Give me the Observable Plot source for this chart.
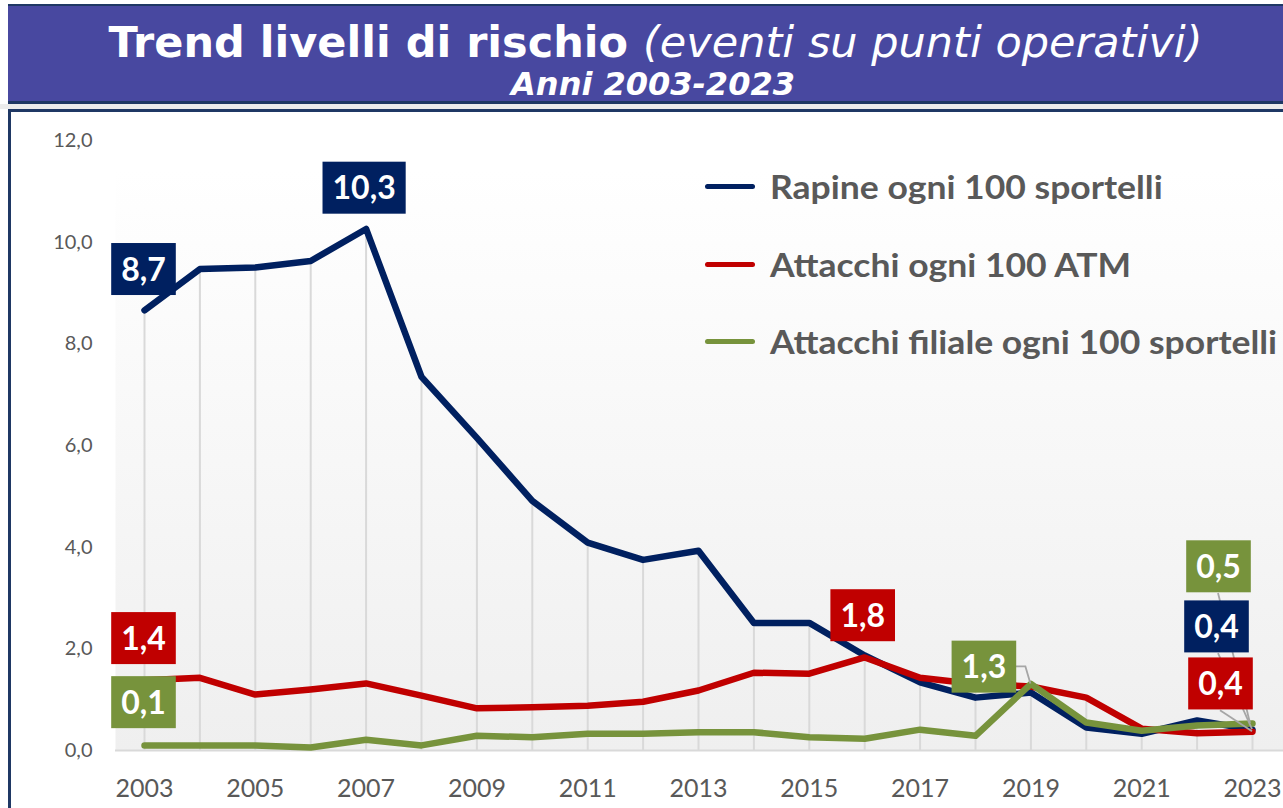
<!DOCTYPE html>
<html lang="it">
<head>
<meta charset="utf-8">
<script src="https://cdn.jsdelivr.net/npm/d3@7"></script>
<script src="https://cdn.jsdelivr.net/npm/@observablehq/plot@0.6"></script>
<style>
  html, body { margin: 0; padding: 0; }
  body { width: 1283px; height: 808px; overflow: hidden; position: relative; background: #ffffff; font-family: Lato, "Open Sans", sans-serif; }
  #banner { position: absolute; left: 8px; top: 4px; width: 1275px; height: 95px; background: #4848A0;
            border-top: 2px solid #1F3864; border-bottom: 3px solid #1F3864; color: #fff; font-family: "DejaVu Sans", sans-serif; }
  #gap { position: absolute; left: 0; top: 104px; width: 1283px; height: 5px; background: #ececec; }
  #t1 { position: absolute; left: 0; width: 1295px; top: 15px; text-align: center; font-size: 43px; line-height: 43px; font-weight: bold; white-space: nowrap; }
  #t1 i { font-weight: normal; }
  #t2 { position: absolute; left: 0; width: 1290px; top: 62px; text-align: center; font-size: 32px; line-height: 32px; font-weight: bold; font-style: italic; white-space: nowrap; }
  #frame { position: absolute; left: 8px; top: 109px; width: 1272px; height: 699px; border-left: 3px solid #1F3864; border-top: 3px solid #1F3864; background: #fff; }
  #chart { position: absolute; left: 0; top: 110px; }
  #legend { position: absolute; left: 705px; top: 163px; font-family: Lato, sans-serif; font-weight: bold; font-size: 32px; color: #595959; }
  .row { position: absolute; left: 0; height: 46px; display: flex; align-items: center; white-space: nowrap; }
  .sw { width: 50px; height: 5px; border-radius: 3px; margin-right: 15px; flex: none; }
  .row span { display: inline-block; transform: scaleX(1.11); transform-origin: left center; }
</style>
</head>
<body>
<div id="banner">
  <div id="t1">Trend livelli di rischio <i>(eventi su punti operativi)</i></div>
  <div id="t2">Anni 2003-2023</div>
</div>
<div id="gap"></div>
<div id="frame"></div>
<div id="chart"></div>
<div id="legend"></div>
<script>
// ---------- DATA ----------
const anni = [2003, 2004, 2005, 2006, 2007, 2008, 2009, 2010, 2011, 2012, 2013,
              2014, 2015, 2016, 2017, 2018, 2019, 2020, 2021, 2022, 2023];
const serieNomi = ["Rapine ogni 100 sportelli", "Attacchi ogni 100 ATM", "Attacchi filiale ogni 100 sportelli"];
const rapine   = [8.66, 9.47, 9.50, 9.63, 10.26, 7.35, 6.15, 4.91, 4.09, 3.75, 3.93,
                  2.51, 2.51, 1.87, 1.34, 1.04, 1.14, 0.45, 0.33, 0.59, 0.41];
const atm      = [1.38, 1.43, 1.10, 1.20, 1.32, 1.08, 0.83, 0.85, 0.88, 0.96, 1.18,
                  1.53, 1.51, 1.83, 1.43, 1.31, 1.26, 1.04, 0.43, 0.34, 0.37];
const filiale  = [0.10, 0.10, 0.10, 0.06, 0.21, 0.10, 0.29, 0.26, 0.33, 0.33, 0.36,
                  0.36, 0.26, 0.23, 0.41, 0.29, 1.31, 0.55, 0.39, 0.49, 0.53];
const tickAnni = [2003, 2005, 2007, 2009, 2011, 2013, 2015, 2017, 2019, 2021, 2023];
const tickValori = [0, 2, 4, 6, 8, 10, 12];
// labelled points: [series index, year]
const etichette = [[0, 2003], [0, 2007], [0, 2023], [1, 2003], [1, 2016], [1, 2023], [2, 2003], [2, 2019], [2, 2023]];

// ---------- STYLE / LAYOUT ----------
const colori = ["#002060", "#C00000", "#77933C"];
const offsets = { // box centre offset from the data point, px
  "0-2003": [-1, -40], "0-2007": [-2, -40], "0-2023": [-36, -102],
  "1-2003": [-1, -41], "1-2016": [-2, -41], "1-2023": [-32, -47],
  "2-2003": [-1, -42], "2-2019": [-47, -16], "2-2023": [-34, -156]
};

const valori = [rapine, atm, filiale];
const righe = serieNomi.flatMap((s, i) => anni.map((a, j) => ({serie: s, anno: a, valore: valori[i][j]})));
const massimi = anni.map((a, j) => ({anno: a, max: d3.max(valori, v => v[j])}));
const fmt = d => d.toFixed(1).replace(".", ",");

const W = 1283, H = 698;
const xRange = [144, 1252], yRange = [640, 30];

function bgDefs() {
  const ns = "http://www.w3.org/2000/svg";
  const defs = document.createElementNS(ns, "defs");
  defs.innerHTML = `<linearGradient id="bggrad" x1="0" y1="0" x2="0" y2="1">
      <stop offset="0" stop-color="#ffffff"/><stop offset="1" stop-color="#efefef"/></linearGradient>`;
  return defs;
}

const marks = [
  bgDefs,
  Plot.frame({fill: "url(#bggrad)", stroke: null}),
  Plot.ruleX(massimi, {x: "anno", y1: 0, y2: "max", stroke: "#d9d9d9", strokeWidth: 2}),
  Plot.ruleY([0], {stroke: "#d9d9d9", strokeWidth: 2}),
  Plot.axisY({ticks: tickValori, tickFormat: fmt, tickSize: 0, tickPadding: 23, fontSize: 20, color: "#595959", fill: "#595959", label: null}),
  Plot.axisX({ticks: tickAnni, tickFormat: d => String(d), tickSize: 0, tickPadding: 29, fontSize: 25, color: "#595959", fill: "#595959", label: null}),
];
serieNomi.forEach((s, i) => {
  marks.push(Plot.line(righe.filter(r => r.serie === s), {
    x: "anno", y: "valore", stroke: colori[i], strokeWidth: 6.5,
    strokeLinecap: "round", strokeLinejoin: "round"
  }));
});
etichette.forEach(([si, a]) => {
  const [dx, dy] = offsets[si + "-" + a];
  const d = righe.filter(r => r.serie === serieNomi[si] && r.anno === a);
  marks.push(Plot.text(d, {
    x: "anno", y: "valore", text: r => fmt(r.valore), dx, dy,
    fill: colori[si], fontSize: 32, fontWeight: "bold", fontFamily: "Lato",
    ariaDescription: "etichetta"
  }));
});

const plot = Plot.plot({
  width: W, height: H,
  marginLeft: 115, marginRight: 0, marginTop: 60, marginBottom: 58,
  style: {background: "transparent", fontFamily: "Lato", overflow: "visible"},
  x: {domain: [2003, 2023], range: xRange, label: null},
  y: {domain: [0, 12], range: yRange, label: null},
  marks
});
document.getElementById("chart").appendChild(plot);

const ns = "http://www.w3.org/2000/svg";
const labelGroups = Array.from(plot.querySelectorAll("g")).filter(g => g.getAttribute("aria-description") === "etichetta");

// label boxes: coloured rectangle behind white text (same transform as the text)
labelGroups.forEach(g => {
  const col = g.getAttribute("fill");
  g.querySelectorAll("text").forEach(t => {
    const bb = t.getBBox();
    const r = document.createElementNS(ns, "rect");
    const w = bb.width + 20, h = 52;
    r.setAttribute("x", bb.x + bb.width / 2 - w / 2);
    r.setAttribute("y", bb.y + bb.height / 2 - h / 2 + 1);
    r.setAttribute("width", w);
    r.setAttribute("height", h);
    r.setAttribute("fill", t.getAttribute("fill") || col);
    if (t.getAttribute("transform")) r.setAttribute("transform", t.getAttribute("transform"));
    t.parentNode.insertBefore(r, t);
    t.setAttribute("fill", "#ffffff");
  });
  g.setAttribute("fill", "#ffffff");
});

// leader lines from labels to their points
const sx = d3.scaleLinear([2003, 2023], xRange), sy = d3.scaleLinear([0, 12], yRange);
const firstLabel = labelGroups[0];
function leader(si, a, pts) {
  const j = anni.indexOf(a);
  const px = sx(a), py = sy(valori[si][j]);
  const [dx, dy] = offsets[si + "-" + a];
  const cx = px + dx, cy = py + dy;
  const p = document.createElementNS(ns, "path");
  p.setAttribute("d", "M" + pts(cx, cy, px, py).map(q => q.join(",")).join("L"));
  p.setAttribute("fill", "none");
  p.setAttribute("stroke", "#a6a6a6");
  p.setAttribute("stroke-width", 1.8);
  if (firstLabel) firstLabel.parentNode.insertBefore(p, firstLabel);
  else plot.appendChild(p);
}
leader(2, 2019, (cx, cy, px, py) => [[cx + 32, cy - 1], [px - 5, cy - 1], [px, py]]);
leader(2, 2023, (cx, cy, px, py) => [[cx, cy + 26], [px - 2, py]]);
leader(0, 2023, (cx, cy, px, py) => [[cx + 2, cy + 26], [px, py]]);
leader(1, 2023, (cx, cy, px, py) => [[cx, cy + 26], [px, py]]);

// legend
const leg = document.getElementById("legend");
const rowTops = [0, 78, 155];
serieNomi.forEach((s, i) => {
  const row = document.createElement("div");
  row.className = "row";
  row.style.top = rowTops[i] + "px";
  const sw = document.createElement("div");
  sw.className = "sw"; sw.style.background = colori[i];
  const tx = document.createElement("span");
  tx.textContent = s;
  row.appendChild(sw); row.appendChild(tx);
  leg.appendChild(row);
});
</script>
</body>
</html>
